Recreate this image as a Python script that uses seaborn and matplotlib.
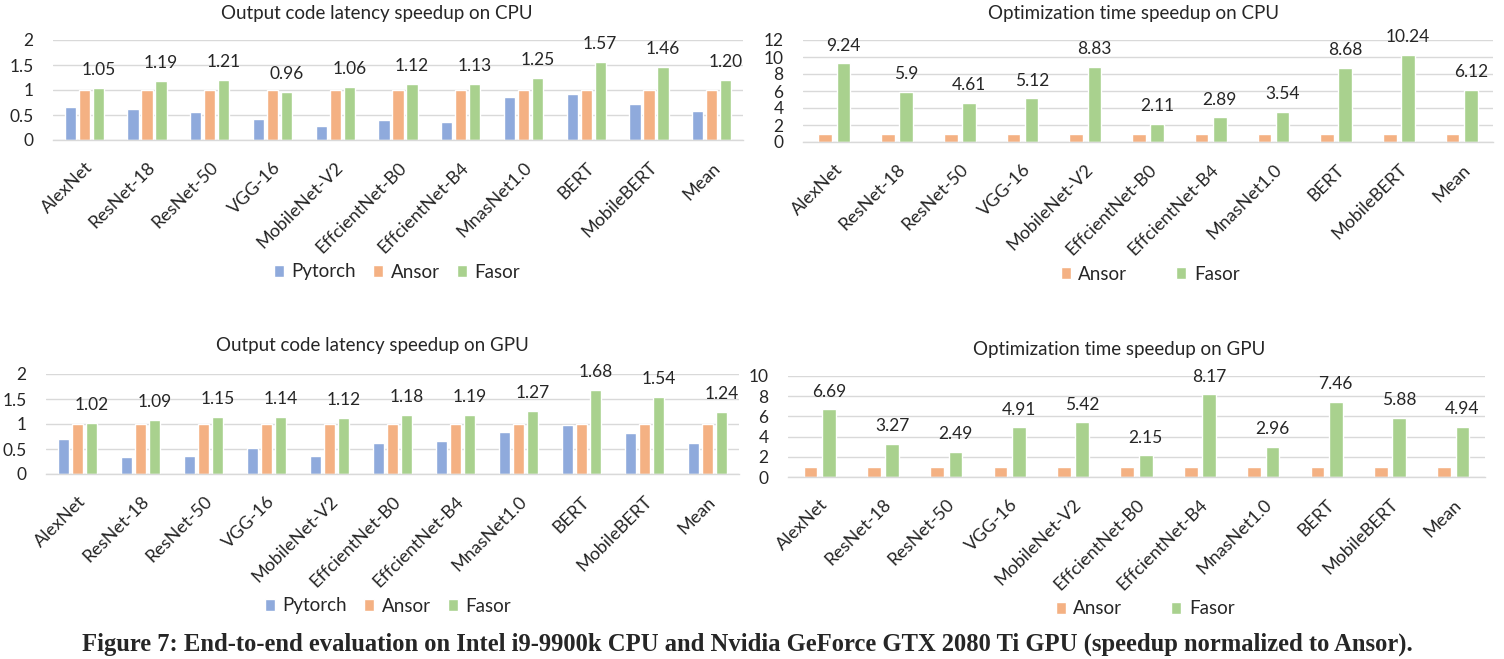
import numpy as np
import pandas as pd
import matplotlib
matplotlib.use("Agg")
import matplotlib.pyplot as plt
from matplotlib.ticker import FuncFormatter
import seaborn as sns

# ---------------- data ----------------
categories = ["AlexNet", "ResNet-18", "ResNet-50", "VGG-16", "MobileNet-V2",
              "EffcientNet-B0", "EffcientNet-B4", "MnasNet1.0", "BERT",
              "MobileBERT", "Mean"]

lat_cpu_pytorch = [0.67, 0.62, 0.56, 0.43, 0.28, 0.40, 0.36, 0.87, 0.93, 0.73, 0.58]
lat_cpu_ansor = [1, 1, 1, 1, 1, 1, 1, 1, 1, 1, 1]
lat_cpu_fasor = [1.05, 1.19, 1.21, 0.96, 1.06, 1.12, 1.13, 1.25, 1.57, 1.46, 1.20]

lat_gpu_pytorch = [0.70, 0.34, 0.36, 0.52, 0.37, 0.62, 0.67, 0.85, 0.98, 0.83, 0.62]
lat_gpu_ansor = [1, 1, 1, 1, 1, 1, 1, 1, 1, 1, 1]
lat_gpu_fasor = [1.02, 1.09, 1.15, 1.14, 1.12, 1.18, 1.19, 1.27, 1.68, 1.54, 1.24]

opt_cpu_ansor = [1, 1, 1, 1, 1, 1, 1, 1, 1, 1, 1]
opt_cpu_fasor = [9.24, 5.9, 4.61, 5.12, 8.83, 2.11, 2.89, 3.54, 8.68, 10.24, 6.12]

opt_gpu_ansor = [1, 1, 1, 1, 1, 1, 1, 1, 1, 1, 1]
opt_gpu_fasor = [6.69, 3.27, 2.49, 4.91, 5.42, 2.15, 8.17, 2.96, 7.46, 5.88, 4.94]

titles = ["Output code latency speedup on CPU", "Optimization time speedup on CPU",
          "Output code latency speedup on GPU", "Optimization time speedup on GPU"]
caption = ("Figure 7: End-to-end evaluation on Intel i9-9900k CPU and Nvidia GeForce "
           "GTX 2080 Ti GPU (speedup normalized to Ansor).")

# ---------------- style ----------------
sns.set_style("white")
plt.rcParams['font.family'] = ['Lato', 'DejaVu Sans']

colors = {"Pytorch": "#8FAADC", "Ansor": "#F4B183", "Fasor": "#A9D18E"}
GRID = "#D9D9D9"

W, H = 1504, 659
fig = plt.figure(figsize=(W / 100, H / 100), dpi=100)


def box(l, r, t, b):
    return [l / W, 1 - b / H, (r - l) / W, (b - t) / H]


def long_df(series):
    rows = []
    for name, vals in series.items():
        for c, v in zip(categories, vals):
            rows.append({"model": c, "impl": name, "speedup": v})
    return pd.DataFrame(rows)


def panel(rect, series, ymax, ystep, title, title_xy, leg_xy, colspace, fmt,
          width, gap):
    ax = fig.add_axes(rect)
    df = long_df(series)
    order = list(series.keys())
    sns.barplot(data=df, x="model", y="speedup", hue="impl", order=categories,
                hue_order=order, palette=[colors[k] for k in order],
                width=width, gap=gap, saturation=1, errorbar=None, ax=ax,
                legend=True)
    ax.set_ylim(0, ymax)
    ax.set_xlim(-0.5, len(categories) - 0.5)
    ax.set_yticks(np.arange(0, ymax + 1e-9, ystep))
    ax.yaxis.set_major_formatter(FuncFormatter(lambda v, p: f"{v:g}"))
    ax.yaxis.grid(True, color=GRID, linewidth=1)
    ax.set_axisbelow(True)
    for s in ["top", "right", "left"]:
        ax.spines[s].set_visible(False)
    ax.spines["bottom"].set_color(GRID)
    ax.spines["bottom"].set_linewidth(1)
    ax.set_xlabel("")
    ax.set_ylabel("")
    ax.tick_params(axis="y", length=0, pad=14, labelsize=12.5)
    ax.tick_params(axis="x", length=0, pad=14, labelsize=13)
    for lab in ax.get_xticklabels():
        lab.set_rotation(45)
        lab.set_ha("right")
        lab.set_va("top")
        lab.set_rotation_mode("anchor")
    # value labels on Fasor bars
    cont = ax.containers[-1]
    ax.bar_label(cont, labels=[fmt(v) for v in series["Fasor"]],
                 padding=7, fontsize=12.5)
    handles, labels = ax.get_legend_handles_labels()
    ax.legend(handles, labels, loc="center",
              bbox_to_anchor=(leg_xy[0] / W, 1 - leg_xy[1] / H),
              bbox_transform=fig.transFigure, ncol=len(order), frameon=False,
              fontsize=13.5, handlelength=0.55, handleheight=0.55,
              handletextpad=0.4, columnspacing=colspace, borderpad=0)
    fig.text(title_xy[0] / W, 1 - title_xy[1] / H, title, ha="center",
             va="center", fontsize=13.5)
    return ax


panel(box(53, 743, 40, 140),
      {"Pytorch": lat_cpu_pytorch, "Ansor": lat_cpu_ansor, "Fasor": lat_cpu_fasor},
      2, 0.5, titles[0], (377, 14), (397, 272), 0.9, lambda v: f"{v:.2f}",
      0.67, 0.2)
panel(box(803, 1493, 40, 142),
      {"Ansor": opt_cpu_ansor, "Fasor": opt_cpu_fasor},
      12, 2, titles[1], (1134, 14), (1150, 274), 2.6, lambda v: f"{v:g}",
      0.58, 0.25)
panel(box(46, 739, 374, 474),
      {"Pytorch": lat_gpu_pytorch, "Ansor": lat_gpu_ansor, "Fasor": lat_gpu_fasor},
      2, 0.5, titles[2], (372, 346), (388, 606), 0.9, lambda v: f"{v:.2f}",
      0.67, 0.2)
panel(box(788, 1485, 376, 477),
      {"Ansor": opt_gpu_ansor, "Fasor": opt_gpu_fasor},
      10, 2, titles[3], (1119, 349), (1145, 609), 2.6, lambda v: f"{v:g}",
      0.58, 0.25)

fig.text(747 / W, 1 - 644 / H, caption, ha="center", va="center",
         fontsize=17.7, fontweight="bold", family=["Liberation Serif", "DejaVu Serif"])

fig.savefig("out.png", dpi=100)
